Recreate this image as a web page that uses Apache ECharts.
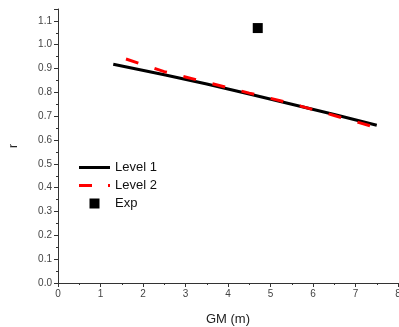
<!DOCTYPE html>
<html>
<head>
<meta charset="utf-8">
<script src="https://cdn.jsdelivr.net/npm/echarts@6/dist/echarts.min.js"></script>
<style>
  html, body { margin: 0; padding: 0; background: #fff; }
  #chart { width: 399px; height: 327px; }
</style>
</head>
<body>
<div id="chart"></div>
<script>
// Values
const level1X = [1.3, 2.5, 3.5, 4.5, 5.5, 6.5, 7.5];
const level1Y = [0.918, 0.874, 0.835, 0.793, 0.75, 0.707, 0.662];
const level2X = [1.6, 2.5, 3.5, 4.5, 5.5, 6.5, 7.5];
const level2Y = [0.94, 0.887, 0.842, 0.797, 0.753, 0.703, 0.652];
const expX = [4.7];
const expY = [1.07];

const pairs = (xs, ys) => xs.map((x, i) => [x, ys[i]]);

const axisColor = '#333333';
const labelColor = '#444444';

const chart = echarts.init(document.getElementById('chart'));

const option = {
	animation: false,
	backgroundColor: '#ffffff',
	grid: {
		left: 58,
		right: 1,
		top: 9,
		bottom: 44,
		outerBoundsMode: 'none'
	},
	legend: {
		orient: 'vertical',
		left: 74,
		top: 156,
		itemWidth: 31,
		itemHeight: 10,
		itemGap: 5,
		symbolKeepAspect: true,
		textStyle: {
			fontFamily: 'Liberation Sans',
			fontSize: 13,
			color: '#111'
		},
		data: [
			{ name: 'Level 1', icon: 'path://M0,0H31V3H0Z' },
			{ name: 'Level 2', icon: 'path://M0,0H13V3H0Z M29,0H31V3H29Z' },
			{ name: 'Exp', icon: 'path://M0,0H10V10H0Z' }
		]
	},
	xAxis: {
		type: 'value',
		min: 0,
		max: 8,
		interval: 1,
		name: 'GM (m)',
		nameLocation: 'middle',
		nameGap: 30,
		nameTextStyle: { fontFamily: 'Liberation Sans', fontSize: 13, color: '#222' },
		axisLine: { lineStyle: { color: axisColor, width: 1 } },
		axisTick: { show: true, length: 4, lineStyle: { color: axisColor } },
		minorTick: { show: true, splitNumber: 2, length: 2, lineStyle: { color: axisColor } },
		axisLabel: { fontFamily: 'Liberation Sans', fontSize: 10, color: labelColor, margin: 6 },
		splitLine: { show: false }
	},
	yAxis: {
		type: 'value',
		min: 0,
		max: 1.15,
		interval: 0.1,
		name: 'r',
		nameLocation: 'middle',
		nameGap: 38,
		nameTextStyle: { fontFamily: 'Liberation Sans', fontSize: 12, color: '#222' },
		axisLine: { show: true, lineStyle: { color: axisColor, width: 1 } },
		axisTick: { show: true, length: 4, lineStyle: { color: axisColor } },
		minorTick: { show: true, splitNumber: 2, length: 2, lineStyle: { color: axisColor } },
		axisLabel: {
			fontFamily: 'Liberation Sans',
			fontSize: 10,
			color: labelColor,
			margin: 6,
			formatter: v => (v > 1.12 ? '' : v.toFixed(1))
		},
		splitLine: { show: false }
	},
	series: [
		{
			name: 'Level 1',
			type: 'line',
			data: pairs(level1X, level1Y),
			symbol: 'none',
			lineStyle: { color: '#000', width: 3 },
			itemStyle: { color: '#000' }
		},
		{
			name: 'Level 2',
			type: 'line',
			data: pairs(level2X, level2Y),
			symbol: 'none',
			lineStyle: { color: '#ff0000', width: 3, type: [13, 17] },
			itemStyle: { color: '#ff0000' }
		},
		{
			name: 'Exp',
			type: 'scatter',
			data: pairs(expX, expY),
			symbol: 'rect',
			symbolSize: 10,
			itemStyle: { color: '#000', opacity: 1 }
		}
	]
};

chart.setOption(option);
</script>
</body>
</html>
